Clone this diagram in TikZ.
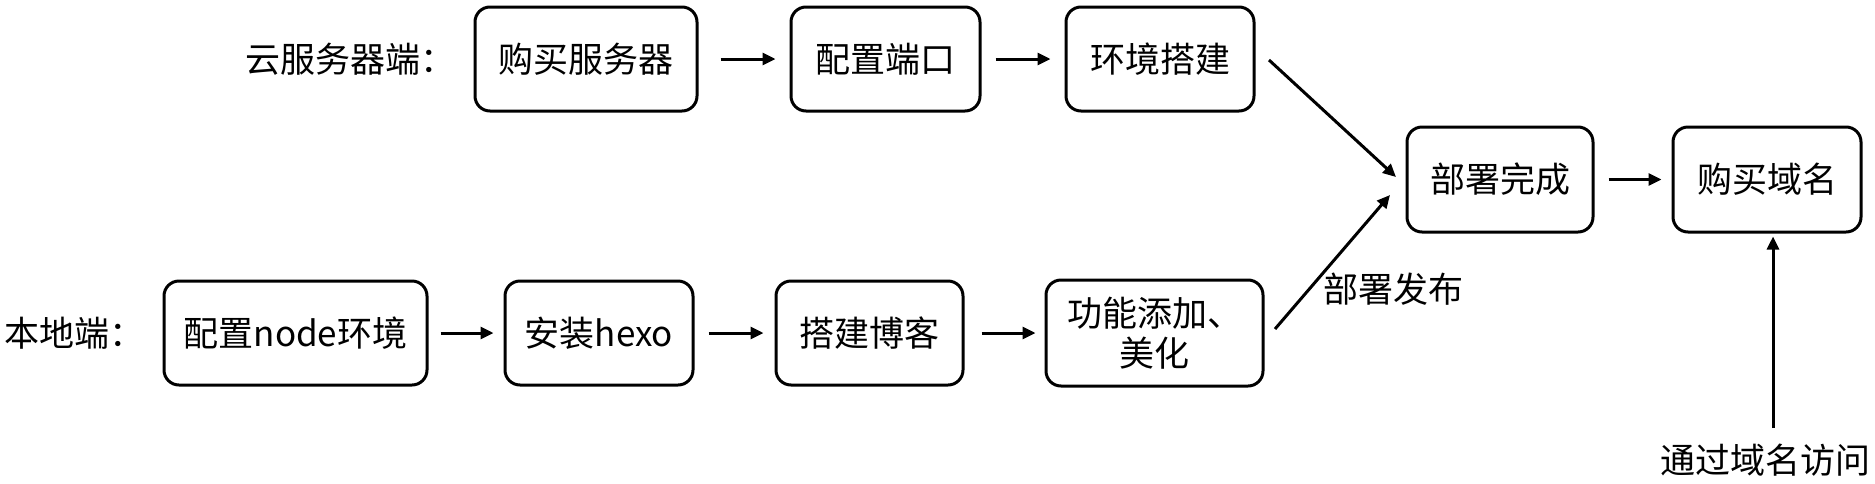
\documentclass[tikz,border=0pt]{standalone}
\usepackage{fontspec}
\setmainfont{Noto Sans CJK SC}
\usetikzlibrary{arrows.meta}
\begin{document}
\begin{tikzpicture}[x=1pt,y=-1pt,
  every node/.style={font=\fontsize{35pt}{40pt}\selectfont, inner sep=0pt},
  box/.style={draw, line width=3pt, rounded corners=15pt, minimum height=104pt, align=center},
  arr/.style={line width=3pt, -{Triangle[length=13pt,width=12pt]}}]
\useasboundingbox (0,0) rectangle (1875,483);
% labels
\node[anchor=west] (cloud) at (245,59) {云服务器端：};
\node[anchor=west] (local) at (4,333) {本地端：};
% top row
\node[box, minimum width=222pt] (b1) at (586,59) {购买服务器};
\node[box, minimum width=189pt] (b2) at (885.5,59) {配置端口};
\node[box, minimum width=188pt] (b3) at (1160,59) {环境搭建};
% bottom row
\node[box, minimum width=263pt] (l1) at (295.5,333) {配置node环境};
\node[box, minimum width=188pt] (l2) at (599,333) {安装hexo};
\node[box, minimum width=187pt] (l3) at (869.5,333) {搭建博客};
\node[box, minimum width=217pt, minimum height=106pt] (l4) at (1154.5,333) {功能添加、\\美化};
% right
\node[box, minimum width=186pt, minimum height=105pt] (d) at (1500,179.5) {部署完成};
\node[box, minimum width=188pt, minimum height=105pt] (dm) at (1767,179.5) {购买域名};
\node[anchor=west] (pub) at (1323,289) {部署发布};
\node (acc) at (1765,460) {通过域名访问};
% connectors
\draw[arr, shorten <=22pt, shorten >=14pt] (b1.east) -- (b2.west);
\draw[arr, shorten <=14pt, shorten >=14pt] (b2.east) -- (b3.west);
\draw[arr, shorten <=12pt, shorten >=10pt] (l1.east) -- (l2.west);
\draw[arr, shorten <=14pt, shorten >=11pt] (l2.east) -- (l3.west);
\draw[arr, shorten <=17pt, shorten >=9pt] (l3.east) -- (l4.west);
\draw[arr, shorten <=14pt, shorten >=10pt] (d.east) -- (dm.west);
\coordinate (s1) at (1269,60);
\coordinate (e1) at (1396,177);
\coordinate (s2) at (1275,329);
\coordinate (e2) at (1390,195);
\draw[arr] (s1) -- (e1);
\draw[arr] (s2) -- (e2);
\coordinate (s3) at (1773,428);
\draw[arr, shorten >=3pt] (s3) -- (dm.south -| s3);
\end{tikzpicture}
\end{document}
